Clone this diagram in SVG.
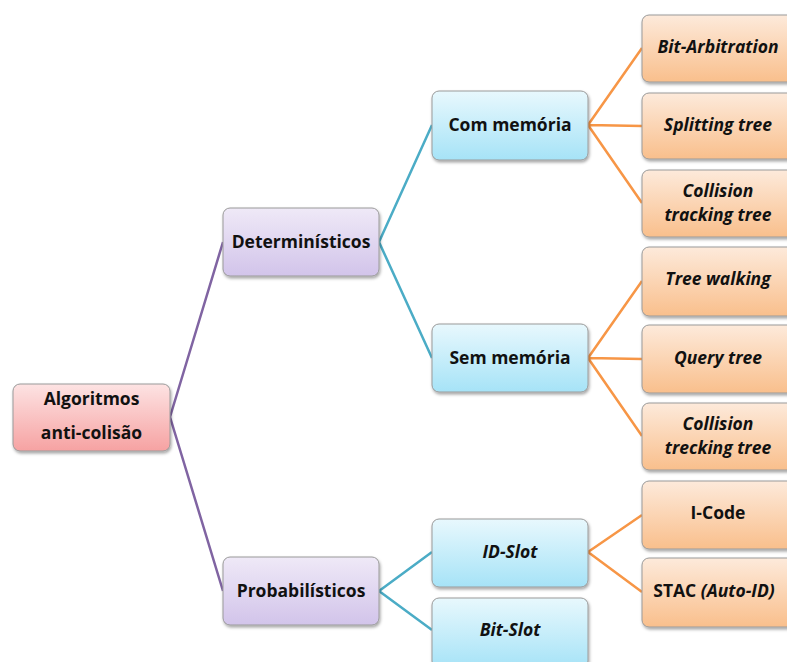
<svg xmlns="http://www.w3.org/2000/svg" width="787" height="662" viewBox="0 0 787 662">
  <style>
    .box { stroke: #9a9a9a; stroke-width: 1; filter: url(#shadow); }
    .lbl { font-family: "Open Sans", "Liberation Sans", sans-serif; font-weight: bold; font-size: 17.5px; fill: #111; text-anchor: middle; }
    .it { font-style: italic; }
    .l1 { stroke: #8064a2; stroke-width: 2.5; fill: none; }
    .l2 { stroke: #4bacc6; stroke-width: 2.5; fill: none; }
    .l3 { stroke: #f79646; stroke-width: 2.5; fill: none; }
  </style>
  <defs>
    <filter id="shadow" x="-10%" y="-10%" width="125%" height="135%">
      <feDropShadow dx="1" dy="2" stdDeviation="1.6" flood-color="#000" flood-opacity="0.35"/>
    </filter>
    <linearGradient id="gRed" x1="0" y1="0" x2="0" y2="1">
      <stop offset="0" stop-color="#fde3e3"/>
      <stop offset="1" stop-color="#f6a2a2"/>
    </linearGradient>
    <linearGradient id="gPurple" x1="0" y1="0" x2="0" y2="1">
      <stop offset="0" stop-color="#efe9f7"/>
      <stop offset="1" stop-color="#d2c4ea"/>
    </linearGradient>
    <linearGradient id="gBlue" x1="0" y1="0" x2="0" y2="1">
      <stop offset="0" stop-color="#e8f8fd"/>
      <stop offset="1" stop-color="#a6e3f7"/>
    </linearGradient>
    <linearGradient id="gOrange" x1="0" y1="0" x2="0" y2="1">
      <stop offset="0" stop-color="#fdeadb"/>
      <stop offset="1" stop-color="#f9bf8c"/>
    </linearGradient>
  </defs>

  <rect width="787" height="662" fill="#ffffff"/>

  <!-- connectors -->
  <g id="connectors">
    <path class="l1" d="M170 417 L223 242 M170 417 L223 591"/>
    <path class="l2" d="M379 242 L432 125 M379 242 L432 358 M379 591 L432 552 M379 591 L432 630"/>
    <path class="l3" d="M588 125 L642 48 M588 125 L642 126 M588 125 L642 203"/>
    <path class="l3" d="M588 358 L642 281 M588 358 L642 359 M588 358 L642 436"/>
    <path class="l3" d="M588 552 L642 515 M588 552 L642 592"/>
  </g>

  <!-- level 0 -->
  <g id="algoritmos">
    <rect class="box" x="13" y="384" width="157" height="67" rx="7" fill="url(#gRed)"/>
    <text class="lbl" x="91.5" y="405">Algoritmos</text>
    <text class="lbl" x="91.5" y="439">anti-colisão</text>
  </g>

  <!-- level 1 -->
  <g id="deterministicos">
    <rect class="box" x="223" y="208" width="156" height="68" rx="7" fill="url(#gPurple)"/>
    <text class="lbl" x="301" y="248">Determinísticos</text>
  </g>
  <g id="probabilisticos">
    <rect class="box" x="223" y="557" width="156" height="68" rx="7" fill="url(#gPurple)"/>
    <text class="lbl" x="301" y="597">Probabilísticos</text>
  </g>

  <!-- level 2 -->
  <g id="com-memoria">
    <rect class="box" x="432" y="91" width="156" height="69" rx="7" fill="url(#gBlue)"/>
    <text class="lbl" x="510" y="131">Com memória</text>
  </g>
  <g id="sem-memoria">
    <rect class="box" x="432" y="324" width="156" height="68" rx="7" fill="url(#gBlue)"/>
    <text class="lbl" x="510" y="364">Sem memória</text>
  </g>
  <g id="id-slot">
    <rect class="box" x="432" y="519" width="156" height="68" rx="7" fill="url(#gBlue)"/>
    <text class="lbl it" x="510" y="558">ID-Slot</text>
  </g>
  <g id="bit-slot">
    <rect class="box" x="432" y="598" width="156" height="70" rx="7" fill="url(#gBlue)"/>
    <text class="lbl it" x="510" y="636">Bit-Slot</text>
  </g>

  <!-- level 3 -->
  <g id="bit-arbitration">
    <rect class="box" x="642" y="15" width="156" height="67" rx="7" fill="url(#gOrange)"/>
    <text class="lbl it" x="718" y="53">Bit-Arbitration</text>
  </g>
  <g id="splitting-tree">
    <rect class="box" x="642" y="93" width="156" height="66" rx="7" fill="url(#gOrange)"/>
    <text class="lbl it" x="718" y="131">Splitting tree</text>
  </g>
  <g id="collision-tracking-tree">
    <rect class="box" x="642" y="170" width="156" height="67" rx="7" fill="url(#gOrange)"/>
    <text class="lbl it" x="718" y="197">Collision</text>
    <text class="lbl it" x="718" y="221">tracking tree</text>
  </g>
  <g id="tree-walking">
    <rect class="box" x="642" y="247" width="156" height="69" rx="7" fill="url(#gOrange)"/>
    <text class="lbl it" x="718" y="285">Tree walking</text>
  </g>
  <g id="query-tree">
    <rect class="box" x="642" y="325" width="156" height="68" rx="7" fill="url(#gOrange)"/>
    <text class="lbl it" x="718" y="364">Query tree</text>
  </g>
  <g id="collision-trecking-tree">
    <rect class="box" x="642" y="403" width="156" height="67" rx="7" fill="url(#gOrange)"/>
    <text class="lbl it" x="718" y="430">Collision</text>
    <text class="lbl it" x="718" y="454">trecking tree</text>
  </g>
  <g id="i-code">
    <rect class="box" x="642" y="481" width="156" height="68" rx="7" fill="url(#gOrange)"/>
    <text class="lbl" x="718" y="519">I-Code</text>
  </g>
  <g id="stac">
    <rect class="box" x="642" y="558" width="156" height="69" rx="7" fill="url(#gOrange)"/>
    <text class="lbl" x="714" y="597">STAC <tspan class="it">(Auto-ID)</tspan></text>
  </g>
</svg>
